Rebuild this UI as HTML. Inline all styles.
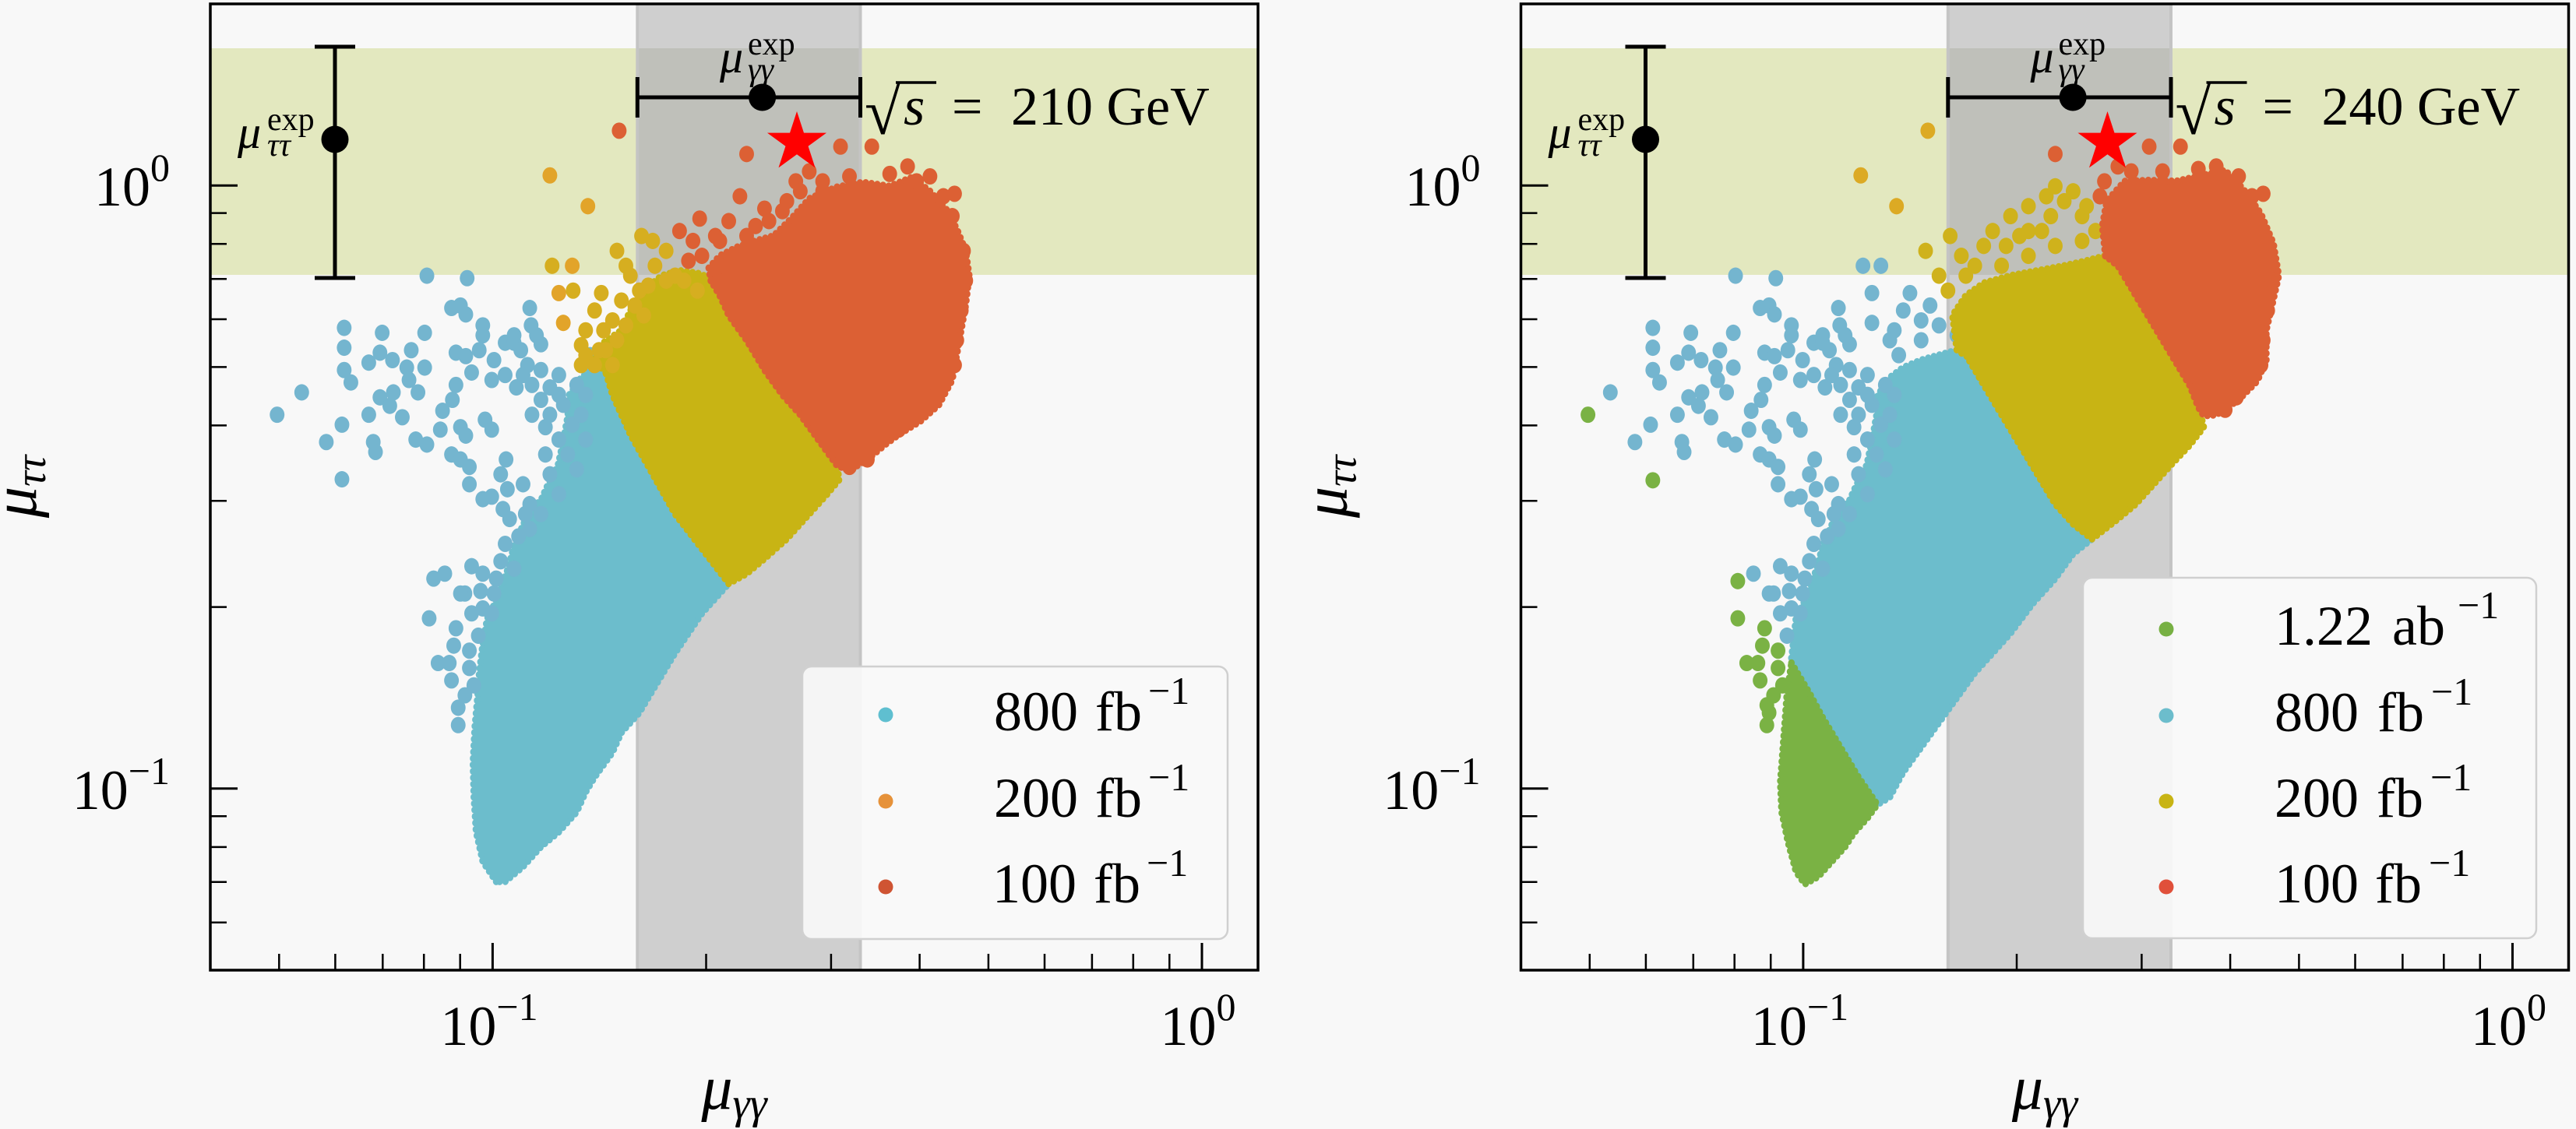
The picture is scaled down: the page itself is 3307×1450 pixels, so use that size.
<!DOCTYPE html>
<html><head><meta charset="utf-8"><style>
html,body{margin:0;padding:0;background:#f8f8f8;}
svg{display:block;}
text{font-family:"Liberation Serif",serif;fill:#000;}
.it{font-style:italic;}
.edge{fill:none;stroke-width:15px;stroke-linecap:round;stroke-linejoin:round;stroke-dasharray:0 13;vector-effect:non-scaling-stroke;}
.body{stroke-width:5px;stroke-linejoin:round;vector-effect:non-scaling-stroke;}
</style></head><body>
<svg width="3307" height="1450" viewBox="0 0 3307 1450" xmlns="http://www.w3.org/2000/svg">
<defs>
<path id="bL" d="M500,1540 L470,1500 L455,1440 L450,1370 L448,1300 L452,1230 L458,1170 L462,1120 L470,1060 L480,1010 L505,965 L528,905 L540,862 L560,822 L575,792 L600,772 L615,742 L638,702 L650,652 L660,602 L662,562 L690,525 L720,505 L745,515 L760,560 L800,640 L850,720 L900,800 L960,870 L1020,940 L960,1000 L900,1080 L860,1140 L820,1200 L780,1240 L760,1280 L720,1330 L700,1360 L680,1400 L640,1440 L600,1470 L560,1510 L520,1540 Z"/>
<path id="yL" d="M745,515 L720,490 L740,455 L780,430 L800,390 L830,350 L870,320 L910,310 L950,315 L980,325 L1000,360 L1020,400 L1060,450 L1100,510 L1140,560 L1180,600 L1220,650 L1260,700 L1268,730 L1240,760 L1200,800 L1150,850 L1100,890 L1060,920 L1020,940 L960,870 L900,800 L850,720 L800,640 L760,560 Z"/>
<path id="rL" d="M980,330 L975,305 L1000,280 L1040,262 L1080,250 L1120,240 L1160,205 L1200,165 L1260,142 L1320,132 L1380,140 L1430,122 L1470,150 L1510,190 L1532,230 L1550,270 L1558,320 L1550,380 L1540,430 L1530,480 L1520,530 L1490,580 L1450,612 L1400,640 L1370,660 L1330,690 L1290,712 L1262,702 L1220,650 L1180,600 L1140,560 L1100,510 L1060,450 L1020,400 L1000,360 Z"/>
<path id="bR" d="M470,1090 L480,1010 L505,965 L528,905 L540,862 L560,822 L575,792 L600,772 L615,742 L638,702 L650,652 L660,602 L662,562 L690,525 L720,505 L760,490 L800,480 L840,470 L862,482 L900,540 L940,600 L980,660 L1020,720 L1060,780 L1100,820 L1142,850 L1100,880 L1060,930 L1010,980 L960,1040 L920,1080 L880,1120 L840,1170 L800,1220 L760,1270 L720,1320 L690,1370 L662,1385 L620,1330 L580,1270 L540,1210 L510,1160 L480,1110 Z"/>
<path id="gR" d="M470,1100 L510,1160 L540,1210 L580,1270 L620,1330 L662,1385 L640,1412 L610,1442 L590,1470 L560,1500 L530,1530 L500,1545 L480,1520 L462,1460 L448,1400 L445,1340 L450,1280 L455,1220 L460,1160 Z"/>
<path id="yR" d="M862,482 L840,470 L830,400 L860,360 L900,335 L960,320 L1020,310 L1080,300 L1130,290 L1172,280 L1200,300 L1240,360 L1280,420 L1320,480 L1360,540 L1382,585 L1392,625 L1360,662 L1320,700 L1280,740 L1240,780 L1200,810 L1160,838 L1142,850 L1100,820 L1060,780 L1020,720 L980,660 L940,600 L900,540 Z"/>
<path id="rR" d="M1172,280 L1165,220 L1175,170 L1215,130 L1270,128 L1330,130 L1390,118 L1440,108 L1480,145 L1520,195 L1548,255 L1560,320 L1545,380 L1532,430 L1532,490 L1512,532 L1470,570 L1420,600 L1392,602 L1380,585 L1360,540 L1320,480 L1280,420 L1240,360 L1200,300 Z"/>
</defs>
<rect width="3307" height="1450" fill="#f8f8f8"/>

<!-- ================= LEFT PANEL ================= -->
<g>
<rect x="270" y="62" width="1345" height="291" fill="#e3e8bf"/>
<rect x="818.3" y="5" width="286.2" height="1241" fill="#cfcfcf"/>
<rect x="818.3" y="62" width="286.2" height="291" fill="#bfc0ba"/>
<line x1="818.3" y1="5" x2="818.3" y2="1246" stroke="#c4c4c4" stroke-width="4"/>
<line x1="1104.5" y1="5" x2="1104.5" y2="1246" stroke="#c4c4c4" stroke-width="4"/>
</g>

<g transform="translate(350,150) scale(0.57405,0.63776)">
  <use href="#bL" class="body" fill="#6cbdcc" stroke="#6cbdcc"/>
  <use href="#bL" class="edge" stroke="#6cbdcc"/>
  <g fill="#74b5cf">
  <circle cx="345" cy="320" r="16.5"/><circle cx="435" cy="325" r="16.5"/><circle cx="400" cy="385" r="16.5"/><circle cx="420" cy="380" r="16.5"/><circle cx="432" cy="398" r="16.5"/><circle cx="575" cy="385" r="16.5"/><circle cx="578" cy="420" r="16.5"/><circle cx="590" cy="440" r="16.5"/><circle cx="600" cy="458" r="16.5"/><circle cx="470" cy="420" r="16.5"/><circle cx="470" cy="440" r="16.5"/><circle cx="160" cy="425" r="16.5"/><circle cx="245" cy="435" r="16.5"/><circle cx="340" cy="435" r="16.5"/><circle cx="160" cy="465" r="16.5"/><circle cx="215" cy="495" r="16.5"/><circle cx="240" cy="475" r="16.5"/><circle cx="268" cy="490" r="16.5"/><circle cx="300" cy="505" r="16.5"/><circle cx="340" cy="505" r="16.5"/><circle cx="310" cy="470" r="16.5"/><circle cx="160" cy="510" r="16.5"/><circle cx="175" cy="535" r="16.5"/><circle cx="305" cy="530" r="16.5"/><circle cx="325" cy="555" r="16.5"/><circle cx="240" cy="565" r="16.5"/><circle cx="262" cy="582" r="16.5"/><circle cx="290" cy="605" r="16.5"/><circle cx="270" cy="555" r="16.5"/><circle cx="410" cy="475" r="16.5"/><circle cx="432" cy="482" r="16.5"/><circle cx="462" cy="470" r="16.5"/><circle cx="445" cy="515" r="16.5"/><circle cx="495" cy="490" r="16.5"/><circle cx="520" cy="455" r="16.5"/><circle cx="540" cy="455" r="16.5"/><circle cx="490" cy="530" r="16.5"/><circle cx="410" cy="540" r="16.5"/><circle cx="402" cy="570" r="16.5"/><circle cx="380" cy="592" r="16.5"/><circle cx="375" cy="630" r="16.5"/><circle cx="420" cy="625" r="16.5"/><circle cx="432" cy="642" r="16.5"/><circle cx="475" cy="610" r="16.5"/><circle cx="490" cy="630" r="16.5"/><circle cx="215" cy="600" r="16.5"/><circle cx="155" cy="620" r="16.5"/><circle cx="120" cy="655" r="16.5"/><circle cx="225" cy="655" r="16.5"/><circle cx="230" cy="675" r="16.5"/><circle cx="320" cy="650" r="16.5"/><circle cx="345" cy="660" r="16.5"/><circle cx="400" cy="680" r="16.5"/><circle cx="420" cy="690" r="16.5"/><circle cx="440" cy="705" r="16.5"/><circle cx="440" cy="740" r="16.5"/><circle cx="522" cy="690" r="16.5"/><circle cx="510" cy="720" r="16.5"/><circle cx="490" cy="765" r="16.5"/><circle cx="525" cy="750" r="16.5"/><circle cx="515" cy="790" r="16.5"/><circle cx="470" cy="770" r="16.5"/><circle cx="65" cy="555" r="16.5"/><circle cx="545" cy="545" r="16.5"/><circle cx="570" cy="500" r="16.5"/><circle cx="600" cy="510" r="16.5"/><circle cx="580" cy="540" r="16.5"/><circle cx="620" cy="545" r="16.5"/><circle cx="640" cy="560" r="16.5"/><circle cx="610" cy="625" r="16.5"/><circle cx="650" cy="580" r="16.5"/><circle cx="670" cy="620" r="16.5"/><circle cx="690" cy="600" r="16.5"/><circle cx="660" cy="680" r="16.5"/><circle cx="620" cy="720" r="16.5"/><circle cx="680" cy="710" r="16.5"/><circle cx="640" cy="760" r="16.5"/><circle cx="575" cy="780" r="16.5"/><circle cx="565" cy="800" r="16.5"/><circle cx="600" cy="800" r="16.5"/><circle cx="550" cy="845" r="16.5"/><circle cx="575" cy="830" r="16.5"/><circle cx="385" cy="920" r="16.5"/><circle cx="445" cy="905" r="16.5"/><circle cx="510" cy="895" r="16.5"/><circle cx="430" cy="960" r="16.5"/><circle cx="465" cy="955" r="16.5"/><circle cx="495" cy="960" r="16.5"/><circle cx="540" cy="440" r="16.5"/><circle cx="555" cy="470" r="16.5"/><circle cx="520" cy="520" r="16.5"/><circle cx="560" cy="520" r="16.5"/><circle cx="600" cy="570" r="16.5"/><circle cx="700" cy="560" r="16.5"/><circle cx="620" cy="600" r="16.5"/><circle cx="580" cy="600" r="16.5"/><circle cx="640" cy="650" r="16.5"/><circle cx="700" cy="650" r="16.5"/><circle cx="610" cy="680" r="16.5"/><circle cx="560" cy="740" r="16.5"/><circle cx="530" cy="810" r="16.5"/><circle cx="520" cy="860" r="16.5"/><circle cx="470" cy="990" r="16.5"/><circle cx="490" cy="1000" r="16.5"/><circle cx="445" cy="1000" r="16.5"/><circle cx="420" cy="960" r="16.5"/><circle cx="470" cy="920" r="16.5"/><circle cx="540" cy="910" r="16.5"/><circle cx="500" cy="930" r="16.5"/><circle cx="640" cy="520" r="16.5"/><circle cx="680" cy="540" r="16.5"/><circle cx="710" cy="480" r="16.5"/>
  <circle cx="360" cy="930" r="16.5"/><circle cx="350" cy="1010" r="16.5"/><circle cx="410" cy="1030" r="16.5"/><circle cx="405" cy="1065" r="16.5"/><circle cx="440" cy="1075" r="16.5"/><circle cx="370" cy="1100" r="16.5"/><circle cx="395" cy="1100" r="16.5"/><circle cx="400" cy="1135" r="16.5"/><circle cx="415" cy="1190" r="16.5"/><circle cx="415" cy="1225" r="16.5"/><circle cx="430" cy="1165" r="16.5"/><circle cx="440" cy="1110" r="16.5"/><circle cx="450" cy="1145" r="16.5"/><circle cx="460" cy="1045" r="16.5"/><circle cx="10" cy="600" r="16.5"/><circle cx="155" cy="730" r="16.5"/>
  </g>
  <use href="#yL" class="body" fill="#c8b414" stroke="#c8b414"/>
  <use href="#yL" class="edge" stroke="#c8b414"/>
  <g fill="#d6ae20">
  <circle cx="620" cy="118" r="16.5" fill="#e2a42a"/><circle cx="705" cy="180" r="16.5" fill="#e2a42a"/><circle cx="770" cy="270" r="16.5"/><circle cx="625" cy="300" r="16.5"/><circle cx="670" cy="300" r="16.5" fill="#e2a42a"/><circle cx="640" cy="355" r="16.5" fill="#e2a42a"/><circle cx="672" cy="350" r="16.5"/><circle cx="650" cy="415" r="16.5" fill="#e2a42a"/><circle cx="735" cy="355" r="16.5"/><circle cx="825" cy="240" r="16.5"/><circle cx="800" cy="320" r="16.5"/><circle cx="720" cy="390" r="16.5"/><circle cx="700" cy="430" r="16.5"/><circle cx="760" cy="410" r="16.5"/><circle cx="780" cy="370" r="16.5"/><circle cx="820" cy="350" r="16.5"/><circle cx="855" cy="300" r="16.5"/><circle cx="880" cy="270" r="16.5"/><circle cx="900" cy="320" r="16.5"/><circle cx="830" cy="400" r="16.5"/><circle cx="740" cy="430" r="16.5"/><circle cx="690" cy="460" r="16.5"/><circle cx="730" cy="470" r="16.5"/><circle cx="850" cy="250" r="16.5"/><circle cx="790" cy="300" r="16.5"/><circle cx="700" cy="480" r="16.5"/><circle cx="720" cy="500" r="16.5"/><circle cx="745" cy="470" r="16.5"/><circle cx="770" cy="450" r="16.5"/><circle cx="790" cy="420" r="16.5"/><circle cx="810" cy="380" r="16.5"/><circle cx="840" cy="340" r="16.5"/><circle cx="880" cy="330" r="16.5"/><circle cx="920" cy="330" r="16.5"/><circle cx="950" cy="350" r="16.5"/><circle cx="760" cy="500" r="16.5"/><circle cx="690" cy="500" r="16.5"/>
  </g>
  <use href="#rL" class="body" fill="#dc6034" stroke="#dc6034"/>
  <use href="#rL" class="edge" stroke="#dc6034"/>
  <g fill="#dc6034">
  <circle cx="775" cy="28" r="16.5"/><circle cx="1060" cy="75" r="16.5"/><circle cx="1270" cy="60" r="16.5"/><circle cx="1340" cy="60" r="16.5"/><circle cx="1525" cy="155" r="16.5"/><circle cx="955" cy="205" r="16.5"/><circle cx="910" cy="230" r="16.5"/><circle cx="1045" cy="160" r="16.5"/><circle cx="1100" cy="185" r="16.5"/><circle cx="1020" cy="210" r="16.5"/><circle cx="940" cy="250" r="16.5"/><circle cx="960" cy="280" r="16.5"/><circle cx="1080" cy="220" r="16.5"/><circle cx="1170" cy="130" r="16.5"/><circle cx="1200" cy="110" r="16.5"/><circle cx="1230" cy="150" r="16.5"/><circle cx="1420" cy="100" r="16.5"/><circle cx="1440" cy="130" r="16.5"/><circle cx="1510" cy="230" r="16.5"/><circle cx="1545" cy="270" r="16.5"/><circle cx="1550" cy="330" r="16.5"/><circle cx="1540" cy="390" r="16.5"/><circle cx="1530" cy="450" r="16.5"/><circle cx="1525" cy="500" r="16.5"/><circle cx="1465" cy="565" r="16.5"/><circle cx="1400" cy="630" r="16.5"/><circle cx="1330" cy="690" r="16.5"/><circle cx="1290" cy="705" r="16.5"/><circle cx="1150" cy="170" r="16.5"/><circle cx="1000" cy="250" r="16.5"/><circle cx="930" cy="290" r="16.5"/><circle cx="1000" cy="300" r="16.5"/><circle cx="1040" cy="290" r="16.5"/><circle cx="990" cy="240" r="16.5"/><circle cx="1060" cy="240" r="16.5"/><circle cx="1110" cy="210" r="16.5"/><circle cx="1140" cy="190" r="16.5"/><circle cx="1180" cy="150" r="16.5"/><circle cx="1230" cy="130" r="16.5"/><circle cx="1290" cy="120" r="16.5"/><circle cx="1380" cy="115" r="16.5"/><circle cx="1470" cy="120" r="16.5"/><circle cx="1500" cy="160" r="16.5"/><circle cx="1520" cy="200" r="16.5"/>
  </g>
</g>

<!-- left foreground -->
<g>
<g stroke="#000" stroke-width="5" fill="none">
<path d="M430,60V357 M404,60H456 M404,357H456"/>
<path d="M818.3,125H1104.5 M818.3,99V151 M1104.5,99V151"/>
</g>
<circle cx="430" cy="179" r="17.5" fill="#000"/>
<circle cx="978.6" cy="125" r="17.5" fill="#000"/>
<polygon fill="#ff0000" transform="translate(1023,183)" points="0,-40 8.99,-12.38 38.04,-12.36 14.55,4.73 23.51,32.36 0,15.3 -23.51,32.36 -14.55,4.73 -38.04,-12.36 -8.99,-12.38"/>
<text x="305" y="190" font-size="60" class="it">μ</text>
<text x="343" y="167" font-size="42">exp</text>
<text x="343" y="200" font-size="42" class="it">ττ</text>
<text x="924" y="93" font-size="60" class="it">μ</text>
<text x="960" y="70" font-size="42">exp</text>
<text x="960" y="103" font-size="42" class="it">γγ</text>
<text x="1110" y="172" font-size="84">√</text>
<line x1="1150" y1="106" x2="1202" y2="106" stroke="#000" stroke-width="3.5"/>
<text x="1160" y="160" font-size="70" class="it">s</text>
<text x="1222" y="160" font-size="70">=</text>
<text x="1298" y="160" font-size="70">210 GeV</text>
<rect x="270" y="5" width="1345" height="1241" fill="none" stroke="#000" stroke-width="3.5"/>
<path stroke="#000" stroke-width="3" fill="none" d="M632.4,1246V1211 M1543,1246V1211 M270,238.2H305 M270,1012.8H305"/>
<path stroke="#000" stroke-width="2.5" fill="none" d="M358.3,1246V1225 M430.4,1246V1225 M491.3,1246V1225 M544.2,1246V1225 M590.7,1246V1225 M906.5,1246V1225 M1066.9,1246V1225 M1180.6,1246V1225 M1268.9,1246V1225 M1341,1246V1225 M1401.9,1246V1225 M1454.8,1246V1225 M1501.3,1246V1225 M270,273.6H291 M270,313.3H291 M270,358.2H291 M270,410H291 M270,471.4H291 M270,546.4H291 M270,643.2H291 M270,779.6H291 M270,1048.2H291 M270,1087.9H291 M270,1132.8H291 M270,1184.7H291"/>
<text x="218" y="264" font-size="72" text-anchor="end">10<tspan font-size="50" dy="-32">0</tspan></text>
<text x="218" y="1039" font-size="72" text-anchor="end">10<tspan font-size="50" dy="-32">−1</tspan></text>
<text x="628" y="1342" font-size="72" text-anchor="middle">10<tspan font-size="50" dy="-32">−1</tspan></text>
<text x="1538" y="1342" font-size="72" text-anchor="middle">10<tspan font-size="50" dy="-32">0</tspan></text>
<text x="942.5" y="1424" font-size="80" text-anchor="middle" class="it">μ<tspan font-size="56" dy="12">γγ</tspan></text>
<text transform="translate(46,625) rotate(-90)" font-size="80" text-anchor="middle" class="it">μ<tspan font-size="56" dy="12">ττ</tspan></text>
<rect x="1030" y="856" width="546" height="350" rx="12" fill="#f8f8f8" fill-opacity="0.92" stroke="#d0d0d0" stroke-width="2.5"/>
<circle cx="1137" cy="918" r="9.5" fill="#5fbfd0"/>
<circle cx="1137" cy="1029" r="9.5" fill="#e6923a"/>
<circle cx="1137" cy="1139" r="9.5" fill="#cf5433"/>
<text y="938" font-size="72"><tspan x="1276">800</tspan><tspan x="1406">fb</tspan><tspan x="1474" font-size="50" dy="-34">−1</tspan></text>
<text y="1049" font-size="72"><tspan x="1276">200</tspan><tspan x="1406">fb</tspan><tspan x="1474" font-size="50" dy="-34">−1</tspan></text>
<text y="1159" font-size="72"><tspan x="1274">100</tspan><tspan x="1404">fb</tspan><tspan x="1472" font-size="50" dy="-34">−1</tspan></text>
</g>

<!-- ================= RIGHT PANEL ================= -->
<g transform="translate(1682.5,0)">
<rect x="270" y="62" width="1345" height="291" fill="#e3e8bf"/>
<rect x="818.3" y="5" width="286.2" height="1241" fill="#cfcfcf"/>
<rect x="818.3" y="62" width="286.2" height="291" fill="#bfc0ba"/>
<line x1="818.3" y1="5" x2="818.3" y2="1246" stroke="#c4c4c4" stroke-width="4"/>
<line x1="1104.5" y1="5" x2="1104.5" y2="1246" stroke="#c4c4c4" stroke-width="4"/>
</g>

<g transform="translate(2030,150) scale(0.57405,0.63776)">
  <use href="#bR" class="body" fill="#6cbdcc" stroke="#6cbdcc"/>
  <use href="#bR" class="edge" stroke="#6cbdcc"/>
  <use href="#gR" class="body" fill="#7ab244" stroke="#7ab244"/>
  <use href="#gR" class="edge" stroke="#7ab244"/>
  <g fill="#74b5cf">
  <circle cx="345" cy="320" r="16.5"/><circle cx="435" cy="325" r="16.5"/><circle cx="400" cy="385" r="16.5"/><circle cx="420" cy="380" r="16.5"/><circle cx="432" cy="398" r="16.5"/><circle cx="575" cy="385" r="16.5"/><circle cx="578" cy="420" r="16.5"/><circle cx="590" cy="440" r="16.5"/><circle cx="600" cy="458" r="16.5"/><circle cx="470" cy="420" r="16.5"/><circle cx="470" cy="440" r="16.5"/><circle cx="160" cy="425" r="16.5"/><circle cx="245" cy="435" r="16.5"/><circle cx="340" cy="435" r="16.5"/><circle cx="160" cy="465" r="16.5"/><circle cx="215" cy="495" r="16.5"/><circle cx="240" cy="475" r="16.5"/><circle cx="268" cy="490" r="16.5"/><circle cx="300" cy="505" r="16.5"/><circle cx="340" cy="505" r="16.5"/><circle cx="310" cy="470" r="16.5"/><circle cx="160" cy="510" r="16.5"/><circle cx="175" cy="535" r="16.5"/><circle cx="305" cy="530" r="16.5"/><circle cx="325" cy="555" r="16.5"/><circle cx="240" cy="565" r="16.5"/><circle cx="262" cy="582" r="16.5"/><circle cx="290" cy="605" r="16.5"/><circle cx="270" cy="555" r="16.5"/><circle cx="410" cy="475" r="16.5"/><circle cx="432" cy="482" r="16.5"/><circle cx="462" cy="470" r="16.5"/><circle cx="445" cy="515" r="16.5"/><circle cx="495" cy="490" r="16.5"/><circle cx="520" cy="455" r="16.5"/><circle cx="540" cy="455" r="16.5"/><circle cx="490" cy="530" r="16.5"/><circle cx="410" cy="540" r="16.5"/><circle cx="402" cy="570" r="16.5"/><circle cx="380" cy="592" r="16.5"/><circle cx="375" cy="630" r="16.5"/><circle cx="420" cy="625" r="16.5"/><circle cx="432" cy="642" r="16.5"/><circle cx="475" cy="610" r="16.5"/><circle cx="490" cy="630" r="16.5"/><circle cx="215" cy="600" r="16.5"/><circle cx="155" cy="620" r="16.5"/><circle cx="120" cy="655" r="16.5"/><circle cx="225" cy="655" r="16.5"/><circle cx="230" cy="675" r="16.5"/><circle cx="320" cy="650" r="16.5"/><circle cx="345" cy="660" r="16.5"/><circle cx="400" cy="680" r="16.5"/><circle cx="420" cy="690" r="16.5"/><circle cx="440" cy="705" r="16.5"/><circle cx="440" cy="740" r="16.5"/><circle cx="522" cy="690" r="16.5"/><circle cx="510" cy="720" r="16.5"/><circle cx="490" cy="765" r="16.5"/><circle cx="525" cy="750" r="16.5"/><circle cx="515" cy="790" r="16.5"/><circle cx="470" cy="770" r="16.5"/><circle cx="65" cy="555" r="16.5"/><circle cx="545" cy="545" r="16.5"/><circle cx="570" cy="500" r="16.5"/><circle cx="600" cy="510" r="16.5"/><circle cx="580" cy="540" r="16.5"/><circle cx="620" cy="545" r="16.5"/><circle cx="640" cy="560" r="16.5"/><circle cx="610" cy="625" r="16.5"/><circle cx="650" cy="580" r="16.5"/><circle cx="670" cy="620" r="16.5"/><circle cx="690" cy="600" r="16.5"/><circle cx="660" cy="680" r="16.5"/><circle cx="620" cy="720" r="16.5"/><circle cx="680" cy="710" r="16.5"/><circle cx="640" cy="760" r="16.5"/><circle cx="575" cy="780" r="16.5"/><circle cx="565" cy="800" r="16.5"/><circle cx="600" cy="800" r="16.5"/><circle cx="550" cy="845" r="16.5"/><circle cx="575" cy="830" r="16.5"/><circle cx="385" cy="920" r="16.5"/><circle cx="445" cy="905" r="16.5"/><circle cx="510" cy="895" r="16.5"/><circle cx="430" cy="960" r="16.5"/><circle cx="465" cy="955" r="16.5"/><circle cx="495" cy="960" r="16.5"/><circle cx="540" cy="440" r="16.5"/><circle cx="555" cy="470" r="16.5"/><circle cx="520" cy="520" r="16.5"/><circle cx="560" cy="520" r="16.5"/><circle cx="600" cy="570" r="16.5"/><circle cx="700" cy="560" r="16.5"/><circle cx="620" cy="600" r="16.5"/><circle cx="580" cy="600" r="16.5"/><circle cx="640" cy="650" r="16.5"/><circle cx="700" cy="650" r="16.5"/><circle cx="610" cy="680" r="16.5"/><circle cx="560" cy="740" r="16.5"/><circle cx="530" cy="810" r="16.5"/><circle cx="520" cy="860" r="16.5"/><circle cx="470" cy="990" r="16.5"/><circle cx="490" cy="1000" r="16.5"/><circle cx="445" cy="1000" r="16.5"/><circle cx="420" cy="960" r="16.5"/><circle cx="470" cy="920" r="16.5"/><circle cx="540" cy="910" r="16.5"/><circle cx="500" cy="930" r="16.5"/><circle cx="640" cy="520" r="16.5"/><circle cx="680" cy="540" r="16.5"/><circle cx="710" cy="480" r="16.5"/>
  <circle cx="630" cy="300" r="16.5"/><circle cx="670" cy="300" r="16.5"/><circle cx="650" cy="355" r="16.5"/><circle cx="735" cy="355" r="16.5"/><circle cx="700" cy="430" r="16.5"/><circle cx="720" cy="390" r="16.5"/><circle cx="760" cy="410" r="16.5"/><circle cx="780" cy="380" r="16.5"/><circle cx="800" cy="420" r="16.5"/><circle cx="840" cy="440" r="16.5"/><circle cx="690" cy="450" r="16.5"/><circle cx="650" cy="415" r="16.5"/><circle cx="760" cy="450" r="16.5"/><circle cx="460" cy="1045" r="16.5"/>
  </g>
  <g fill="#7ab244">
  <circle cx="15" cy="600" r="16.5"/><circle cx="160" cy="732" r="16.5"/><circle cx="350" cy="935" r="16.5"/><circle cx="350" cy="1010" r="16.5"/><circle cx="410" cy="1030" r="16.5"/><circle cx="405" cy="1065" r="16.5"/><circle cx="440" cy="1075" r="16.5"/><circle cx="370" cy="1100" r="16.5"/><circle cx="395" cy="1100" r="16.5"/><circle cx="400" cy="1135" r="16.5"/><circle cx="415" cy="1185" r="16.5"/><circle cx="415" cy="1225" r="16.5"/><circle cx="430" cy="1165" r="16.5"/><circle cx="450" cy="1145" r="16.5"/><circle cx="440" cy="1110" r="16.5"/><circle cx="420" cy="1200" r="16.5"/>
  </g>
  <use href="#yR" class="body" fill="#c8b414" stroke="#c8b414"/>
  <use href="#yR" class="edge" stroke="#c8b414"/>
  <g fill="#cfb21c">
  <circle cx="775" cy="28" r="16.5" fill="#dcaa24"/><circle cx="625" cy="118" r="16.5" fill="#dcaa24"/><circle cx="705" cy="180" r="16.5" fill="#dcaa24"/><circle cx="770" cy="270" r="16.5"/><circle cx="825" cy="240" r="16.5"/><circle cx="800" cy="320" r="16.5"/><circle cx="880" cy="300" r="16.5"/><circle cx="920" cy="230" r="16.5"/><circle cx="960" cy="200" r="16.5"/><circle cx="1000" cy="180" r="16.5"/><circle cx="1040" cy="160" r="16.5"/><circle cx="1080" cy="170" r="16.5"/><circle cx="1120" cy="200" r="16.5"/><circle cx="900" cy="260" r="16.5"/><circle cx="850" cy="280" r="16.5"/><circle cx="1000" cy="230" r="16.5"/><circle cx="1050" cy="200" r="16.5"/><circle cx="950" cy="260" r="16.5"/><circle cx="1100" cy="150" r="16.5"/><circle cx="1060" cy="140" r="16.5"/><circle cx="820" cy="350" r="16.5"/><circle cx="1130" cy="180" r="16.5"/><circle cx="860" cy="320" r="16.5"/><circle cx="940" cy="300" r="16.5"/><circle cx="1000" cy="280" r="16.5"/><circle cx="1060" cy="260" r="16.5"/><circle cx="1120" cy="250" r="16.5"/><circle cx="1150" cy="230" r="16.5"/><circle cx="980" cy="240" r="16.5"/><circle cx="1030" cy="230" r="16.5"/>
  </g>
  <use href="#rR" class="body" fill="#dc6034" stroke="#dc6034"/>
  <use href="#rR" class="edge" stroke="#dc6034"/>
  <g fill="#dc6034">
  <circle cx="1060" cy="75" r="16.5"/><circle cx="1270" cy="60" r="16.5"/><circle cx="1340" cy="60" r="16.5"/><circle cx="1525" cy="155" r="16.5"/><circle cx="1200" cy="100" r="16.5"/><circle cx="1170" cy="130" r="16.5"/><circle cx="1420" cy="100" r="16.5"/><circle cx="1530" cy="270" r="16.5"/><circle cx="1545" cy="330" r="16.5"/><circle cx="1535" cy="390" r="16.5"/><circle cx="1525" cy="450" r="16.5"/><circle cx="1520" cy="500" r="16.5"/><circle cx="1465" cy="565" r="16.5"/><circle cx="1440" cy="590" r="16.5"/><circle cx="1230" cy="110" r="16.5"/><circle cx="1300" cy="110" r="16.5"/><circle cx="1380" cy="105" r="16.5"/><circle cx="1470" cy="120" r="16.5"/><circle cx="1500" cy="160" r="16.5"/><circle cx="1160" cy="160" r="16.5"/>
  </g>
</g>

<!-- right foreground -->
<g transform="translate(1682.5,0)">
<g stroke="#000" stroke-width="5" fill="none">
<path d="M430,60V357 M404,60H456 M404,357H456"/>
<path d="M818.3,125H1104.5 M818.3,99V151 M1104.5,99V151"/>
</g>
<circle cx="430" cy="179" r="17.5" fill="#000"/>
<circle cx="978.6" cy="125" r="17.5" fill="#000"/>
<polygon fill="#ff0000" transform="translate(1023,183)" points="0,-40 8.99,-12.38 38.04,-12.36 14.55,4.73 23.51,32.36 0,15.3 -23.51,32.36 -14.55,4.73 -38.04,-12.36 -8.99,-12.38"/>
<text x="305" y="190" font-size="60" class="it">μ</text>
<text x="343" y="167" font-size="42">exp</text>
<text x="343" y="200" font-size="42" class="it">ττ</text>
<text x="924" y="93" font-size="60" class="it">μ</text>
<text x="960" y="70" font-size="42">exp</text>
<text x="960" y="103" font-size="42" class="it">γγ</text>
<text x="1110" y="172" font-size="84">√</text>
<line x1="1150" y1="106" x2="1202" y2="106" stroke="#000" stroke-width="3.5"/>
<text x="1160" y="160" font-size="70" class="it">s</text>
<text x="1222" y="160" font-size="70">=</text>
<text x="1298" y="160" font-size="70">240 GeV</text>
<rect x="270" y="5" width="1345" height="1241" fill="none" stroke="#000" stroke-width="3.5"/>
<path stroke="#000" stroke-width="3" fill="none" d="M632.4,1246V1211 M1543,1246V1211 M270,238.2H305 M270,1012.8H305"/>
<path stroke="#000" stroke-width="2.5" fill="none" d="M358.3,1246V1225 M430.4,1246V1225 M491.3,1246V1225 M544.2,1246V1225 M590.7,1246V1225 M906.5,1246V1225 M1066.9,1246V1225 M1180.6,1246V1225 M1268.9,1246V1225 M1341,1246V1225 M1401.9,1246V1225 M1454.8,1246V1225 M1501.3,1246V1225 M270,273.6H291 M270,313.3H291 M270,358.2H291 M270,410H291 M270,471.4H291 M270,546.4H291 M270,643.2H291 M270,779.6H291 M270,1048.2H291 M270,1087.9H291 M270,1132.8H291 M270,1184.7H291"/>
<text x="218" y="264" font-size="72" text-anchor="end">10<tspan font-size="50" dy="-32">0</tspan></text>
<text x="218" y="1039" font-size="72" text-anchor="end">10<tspan font-size="50" dy="-32">−1</tspan></text>
<text x="628" y="1342" font-size="72" text-anchor="middle">10<tspan font-size="50" dy="-32">−1</tspan></text>
<text x="1538" y="1342" font-size="72" text-anchor="middle">10<tspan font-size="50" dy="-32">0</tspan></text>
<text x="942.5" y="1424" font-size="80" text-anchor="middle" class="it">μ<tspan font-size="56" dy="12">γγ</tspan></text>
<text transform="translate(46,625) rotate(-90)" font-size="80" text-anchor="middle" class="it">μ<tspan font-size="56" dy="12">ττ</tspan></text>
</g>

<rect x="2674" y="742" width="582" height="463" rx="12" fill="#f8f8f8" fill-opacity="0.92" stroke="#d0d0d0" stroke-width="2.5"/>
<circle cx="2781" cy="808" r="9.5" fill="#77b043"/>
<circle cx="2781" cy="919" r="9.5" fill="#6cbdcc"/>
<circle cx="2781" cy="1029" r="9.5" fill="#c8b414"/>
<circle cx="2781" cy="1139" r="9.5" fill="#e0503a"/>
<text y="828" font-size="72"><tspan x="2920">1.22</tspan><tspan x="3071">ab</tspan><tspan x="3155" font-size="50" dy="-34">−1</tspan></text>
<text y="939" font-size="72"><tspan x="2920">800</tspan><tspan x="3052">fb</tspan><tspan x="3121" font-size="50" dy="-34">−1</tspan></text>
<text y="1049" font-size="72"><tspan x="2920">200</tspan><tspan x="3051">fb</tspan><tspan x="3120" font-size="50" dy="-34">−1</tspan></text>
<text y="1159" font-size="72"><tspan x="2920">100</tspan><tspan x="3049">fb</tspan><tspan x="3118" font-size="50" dy="-34">−1</tspan></text>
</svg>
</body></html>
